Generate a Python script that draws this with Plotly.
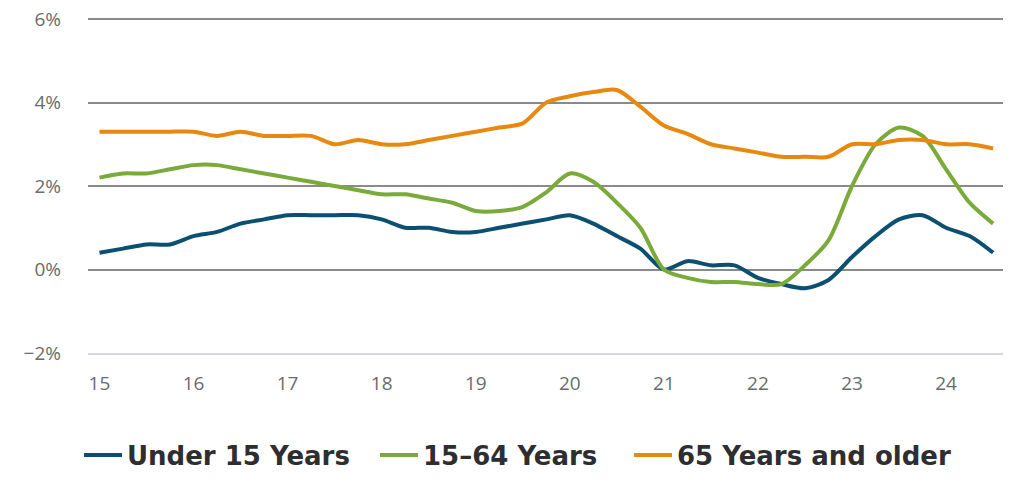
"""Population growth by age group, quarterly, 2015-2024."""

import plotly.graph_objects as go


# quarter positions on the x axis (year as two digits + fraction)
QUARTERS = [
    15.0, 15.25, 15.5, 15.75, 16.0, 16.25, 16.5, 16.75, 17.0, 17.25,
    17.5, 17.75, 18.0, 18.25, 18.5, 18.75, 19.0, 19.25, 19.5, 19.75,
    20.0, 20.25, 20.5, 20.75, 21.0, 21.25, 21.5, 21.75, 22.0, 22.25,
    22.5, 22.75, 23.0, 23.25, 23.5, 23.75, 24.0, 24.25, 24.5,
]

UNDER_15 = [
    0.4, 0.5, 0.6, 0.6, 0.8, 0.9, 1.1, 1.2, 1.3, 1.3,
    1.3, 1.3, 1.2, 1.0, 1.0, 0.9, 0.9, 1.0, 1.1, 1.2,
    1.3, 1.1, 0.8, 0.5, 0.0, 0.2, 0.1, 0.1, -0.2, -0.35,
    -0.45, -0.25, 0.3, 0.8, 1.2, 1.3, 1.0, 0.8, 0.4,
]

AGE_15_64 = [
    2.2, 2.3, 2.3, 2.4, 2.5, 2.5, 2.4, 2.3, 2.2, 2.1,
    2.0, 1.9, 1.8, 1.8, 1.7, 1.6, 1.4, 1.4, 1.5, 1.85,
    2.3, 2.1, 1.6, 1.0, 0.0, -0.2, -0.3, -0.3, -0.35, -0.35,
    0.1, 0.7, 2.0, 3.0, 3.4, 3.2, 2.4, 1.6, 1.1,
]

AGE_65_PLUS = [
    3.3, 3.3, 3.3, 3.3, 3.3, 3.2, 3.3, 3.2, 3.2, 3.2,
    3.0, 3.1, 3.0, 3.0, 3.1, 3.2, 3.3, 3.4, 3.5, 4.0,
    4.15, 4.25, 4.3, 3.9, 3.45, 3.25, 3.0, 2.9, 2.8, 2.7,
    2.7, 2.7, 3.0, 3.0, 3.1, 3.1, 3.0, 3.0, 2.9,
]

X_TICKS = [15, 16, 17, 18, 19, 20, 21, 22, 23, 24]
Y_TICKS = [-2, 0, 2, 4, 6]
Y_TICK_LABELS = ['\u22122%', '0%', '2%', '4%', '6%']

SERIES = [
    ('Under 15 Years', UNDER_15, '#0b4f71', 'legend', 84),
    ('15\u201364 Years', AGE_15_64, '#7aaa3a', 'legend2', 380),
    ('65 Years and older', AGE_65_PLUS, '#e8890f', 'legend3', 634),
]

# the page body adds an 8px margin, so the figure is sized to the visible window
BODY_MARGIN = 8
WIDTH = 1024 - BODY_MARGIN
HEIGHT = 501 - BODY_MARGIN
# plot area edges in screen pixels
PLOT_LEFT = 88
PLOT_RIGHT = 1003
PLOT_TOP = 13          # a little headroom so the 6% gridline is drawn
GRID_TOP_PX = 19       # where the 6% line sits
PLOT_BOTTOM = 353      # where the -2% line / axis sits
LEGEND_Y_PX = 455
TICK_FONT = dict(family='Open Sans', size=19, color='#6b6b6b')
LEGEND_FONT = dict(family='DejaVu Sans', size=26, color='#2e2e30', weight='bold')

PX_PER_UNIT = (PLOT_BOTTOM - GRID_TOP_PX) / (Y_TICKS[-1] - Y_TICKS[0])
Y_RANGE = [Y_TICKS[0], Y_TICKS[-1] + (GRID_TOP_PX - PLOT_TOP) / PX_PER_UNIT]


def build_figure():
    fig = go.Figure()
    layout_legends = {}
    for name, values, color, legend_id, symbol_px in SERIES:
        fig.add_trace(go.Scatter(
            x = QUARTERS,
            y = values,
            mode = 'lines',
            name = name,
            legend = legend_id,
            showlegend = True,
            line = dict(color = color, width = 4, shape = 'spline', smoothing = 0.8),
        ))
        layout_legends[legend_id] = dict(
            xref = 'container',
            yref = 'container',
            x = (symbol_px - BODY_MARGIN - 5) / WIDTH,
            xanchor = 'left',
            y = 1 - (LEGEND_Y_PX - BODY_MARGIN) / HEIGHT,
            yanchor = 'middle',
            orientation = 'h',
            itemwidth = 38,
            font = LEGEND_FONT,
            bgcolor = 'rgba(0,0,0,0)',
        )

    fig.update_layout(
        width = WIDTH,
        height = HEIGHT,
        showlegend = True,
        margin = dict(
            l = PLOT_LEFT - BODY_MARGIN,
            r = WIDTH - (PLOT_RIGHT - BODY_MARGIN),
            t = PLOT_TOP - BODY_MARGIN,
            b = HEIGHT - (PLOT_BOTTOM - BODY_MARGIN),
            autoexpand = False,
        ),
        paper_bgcolor = 'white',
        plot_bgcolor = 'white',
        xaxis = dict(
            range = [14.878, 24.605],
            tickvals = X_TICKS,
            showgrid = False,
            zeroline = False,
            showline = True,
            linecolor = '#d6d6e2',
            linewidth = 2,
            tickfont = TICK_FONT,
            ticklabelstandoff = 12,
        ),
        yaxis = dict(
            range = Y_RANGE,
            tickvals = Y_TICKS,
            ticktext = Y_TICK_LABELS,
            showgrid = True,
            gridcolor = '#8a8a8a',
            gridwidth = 2,
            zeroline = False,
            showline = False,
            tickfont = TICK_FONT,
            ticklabelstandoff = 26,
            ticklabeloverflow = 'allow',
        ),
        **layout_legends,
    )
    return fig


def main():
    fig = build_figure()
    fig.write_html("out.html")


if __name__ == '__main__':
    main()
